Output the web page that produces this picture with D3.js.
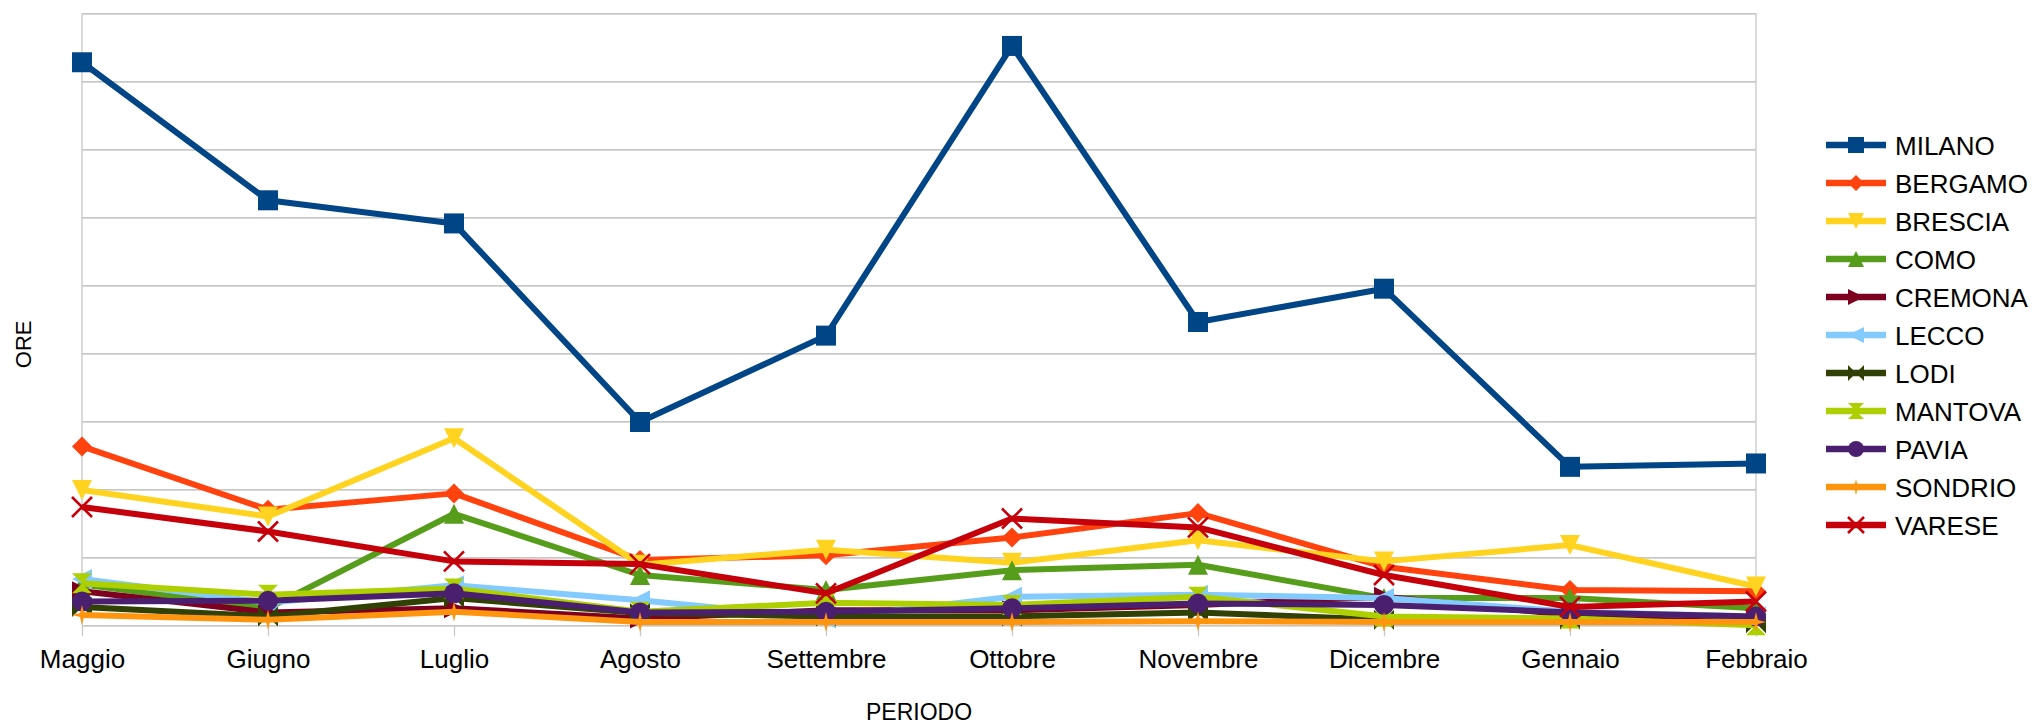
<!DOCTYPE html>
<html>
<head>
<meta charset="utf-8">
<script src="https://cdn.jsdelivr.net/npm/d3@7"></script>
<style>
  html, body { margin: 0; padding: 0; background: #fff; }
  svg { display: block; font-family: "Liberation Sans", Arial, sans-serif; }
</style>
</head>
<body>
<svg id="chart" width="2033" height="724"></svg>
<script>
// ---- data ----
const months = ["Maggio","Giugno","Luglio","Agosto","Settembre","Ottobre","Novembre","Dicembre","Gennaio","Febbraio"];
const seriesNames = ["MILANO","BERGAMO","BRESCIA","COMO","CREMONA","LECCO","LODI","MANTOVA","PAVIA","SONDRIO","VARESE"];
const milano  = [8.28, 6.25, 5.91, 2.99, 4.26, 8.52, 4.46, 4.95, 2.33, 2.38];
const bergamo = [2.63, 1.70, 1.94, 0.96, 1.03, 1.29, 1.65, 0.86, 0.52, 0.50];
const brescia = [1.99, 1.60, 2.75, 0.89, 1.11, 0.92, 1.25, 0.94, 1.18, 0.57];
const como    = [0.60, 0.25, 1.64, 0.74, 0.52, 0.81, 0.89, 0.40, 0.40, 0.25];
const cremona = [0.50, 0.19, 0.25, 0.10, 0.22, 0.22, 0.30, 0.42, 0.15, 0.08];
const lecco   = [0.68, 0.33, 0.59, 0.37, 0.10, 0.42, 0.45, 0.40, 0.20, 0.13];
const lodi    = [0.27, 0.13, 0.40, 0.18, 0.13, 0.13, 0.19, 0.08, 0.08, 0.03];
const mantova = [0.62, 0.45, 0.54, 0.20, 0.33, 0.30, 0.42, 0.13, 0.10, 0.00];
const pavia   = [0.35, 0.36, 0.47, 0.19, 0.20, 0.25, 0.32, 0.30, 0.19, 0.13];
const sondrio = [0.15, 0.08, 0.20, 0.05, 0.05, 0.05, 0.06, 0.05, 0.05, 0.05];
const varese  = [1.74, 1.38, 0.94, 0.90, 0.47, 1.57, 1.44, 0.74, 0.27, 0.35];
const seriesValues = [milano, bergamo, brescia, como, cremona, lecco, lodi, mantova, pavia, sondrio, varese];
const colors = ["#004586","#ff420e","#ffd320","#579d1c","#7e0021","#83caff","#314004","#aecf00","#4b1f6f","#ff950e","#c5000b"];
const symbols = ["square","diamond","down","up","right","left","bowtie","hourglass","circle","star","x"];
const yMax = 9;
const xTitle = "PERIODO";
const yTitle = "ORE";

// ---- layout ----
const svg = d3.select("#chart");
const L = 82, R = 1756, T = 13.3, B = 625.3;

const x = d3.scalePoint().domain(months).range([L, R]).padding(0);
const y = d3.scaleLinear().domain([0, yMax]).range([B, T]);

const grid = "#b3b3b3";

// horizontal gridlines
const gy = svg.append("g").attr("transform", `translate(${L},0)`)
  .call(d3.axisLeft(y).ticks(yMax).tickSize(-(R - L)).tickFormat(""));
gy.select(".domain").remove();
gy.selectAll(".tick line").attr("stroke", grid).attr("stroke-width", 1.3);

// vertical plot borders
svg.append("g").selectAll("line").data([L, R]).join("line")
  .attr("x1", d => d).attr("x2", d => d)
  .attr("y1", T).attr("y2", B)
  .attr("stroke", "#c8c8c8").attr("stroke-width", 1.3);

// x axis
const gx = svg.append("g").attr("transform", `translate(0,${B})`)
  .call(d3.axisBottom(x).tickSize(11).tickPadding(0));
gx.select(".domain").remove();
gx.selectAll(".tick line").attr("stroke", "#c8c8c8").attr("stroke-width", 1.3);
gx.selectAll(".tick text")
  .attr("y", 43).attr("dy", 0)
  .attr("fill", "#000")
  .style("font-size", "26px")
  .style("font-family", "Liberation Sans, Arial, sans-serif");

// axis titles
svg.append("text").attr("x", (L + R) / 2).attr("y", 720)
  .attr("text-anchor", "middle").style("font-size", "23px").text(xTitle);
svg.append("text").attr("transform", `translate(31,${(T + B) / 2 + 25}) rotate(-90)`)
  .attr("text-anchor", "middle").style("font-size", "22px").text(yTitle);

// symbol paths (centered at 0,0, size s)
function symbolPath(type, s) {
  const h = s / 2;
  switch (type) {
    case "square": return `M${-h},${-h}H${h}V${h}H${-h}Z`;
    case "diamond": return `M0,${-h}L${h},0L0,${h}L${-h},0Z`;
    case "down": return `M${-h},${-h}L${h},${-h}L0,${h}Z`;
    case "up": return `M${-h},${h}L${h},${h}L0,${-h}Z`;
    case "right": return `M${-h},${-h}L${h},0L${-h},${h}Z`;
    case "left": return `M${h},${-h}L${-h},0L${h},${h}Z`;
    case "bowtie": return `M${-h},${-h}L0,0L${-h},${h}ZM${h},${-h}L0,0L${h},${h}Z`;
    case "hourglass": return `M${-h},${-h}L${h},${-h}L0,0ZM${-h},${h}L${h},${h}L0,0Z`;
    case "circle": return `M${h},0A${h},${h} 0 1,1 ${-h},0A${h},${h} 0 1,1 ${h},0Z`;
    case "star": { const k = h * 0.2; return `M0,${-h}L${k},${-k}L${h},0L${k},${k}L0,${h}L${-k},${k}L${-h},0L${-k},${-k}Z`; }
    case "x": return `M${-h},${-h}L${h},${h}M${h},${-h}L${-h},${h}`;
  }
}
function drawSymbol(g, type, color, s) {
  const p = g.append("path").attr("d", symbolPath(type, s));
  if (type === "x") p.attr("fill", "none").attr("stroke", color).attr("stroke-width", 2.6);
  else p.attr("fill", color);
}

// series
const line = d3.line().x((d, i) => x(months[i])).y(d => y(d));
seriesNames.forEach((name, si) => {
  const g = svg.append("g");
  g.append("path").datum(seriesValues[si]).attr("d", line)
    .attr("fill", "none").attr("stroke", colors[si]).attr("stroke-width", 6)
    .attr("stroke-linejoin", "round");
  seriesValues[si].forEach((v, i) => {
    const mg = g.append("g").attr("transform", `translate(${x(months[i])},${y(v)})`);
    drawSymbol(mg, symbols[si], colors[si], 20);
  });
});

// legend
const leg = svg.append("g");
seriesNames.forEach((name, si) => {
  const yy = 145 + si * 38;
  const g = leg.append("g").attr("transform", `translate(0,${yy})`);
  g.append("line").attr("x1", 1826).attr("x2", 1886).attr("y1", 0).attr("y2", 0)
    .attr("stroke", colors[si]).attr("stroke-width", 6.5);
  const mg = g.append("g").attr("transform", "translate(1856,0)");
  drawSymbol(mg, symbols[si], colors[si], 16);
  g.append("text").attr("x", 1895).attr("y", 9.5).style("font-size", "26px").text(name);
});
</script>
</body>
</html>
